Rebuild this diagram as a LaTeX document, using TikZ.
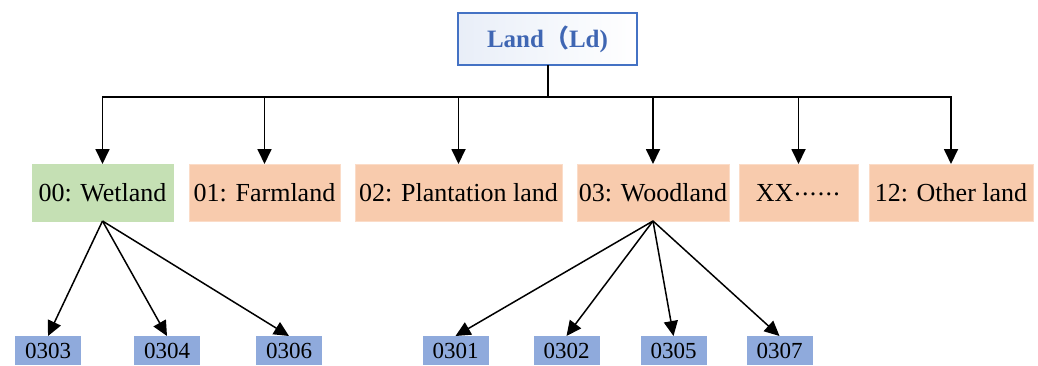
\documentclass[tikz,border=0pt]{standalone}
\usepackage{fontspec}
\setmainfont{Liberation Serif}
\newfontfamily\cjkfont{Noto Sans CJK SC}
\usetikzlibrary{arrows.meta}
\definecolor{wetgreen}{HTML}{C5E0B4}
\definecolor{classorange}{HTML}{F8CBAD}
\definecolor{classedge}{HTML}{FBDCC8}
\definecolor{subblue}{HTML}{8FAADC}
\definecolor{rootblue}{HTML}{4472C4}
\definecolor{roottext}{HTML}{3F66B3}
\newcommand{\middots}{\kern1pt\foreach \i in {1,...,6}{\raisebox{0.22em}{.}\kern1.3pt}}
\begin{document}
\begin{tikzpicture}[x=1pt,y=-1pt,
  every node/.style={inner sep=0pt, outer sep=0pt, anchor=center},
  rootbox/.style={draw=rootblue, line width=1.3pt, left color=rootblue!12, right color=white,
    minimum width=179pt, minimum height=52pt, text=roottext,
    font=\fontsize{25}{28}\selectfont\bfseries},
  classbox/.style={fill=classorange, draw=classedge, line width=1pt,
    minimum height=57pt, font=\fontsize{26}{30}\selectfont},
  wetbox/.style={classbox, fill=wetgreen, draw=wetgreen},
  codebox/.style={fill=subblue, minimum width=66pt, minimum height=29pt,
    font=\fontsize{23}{26}\selectfont},
  conn/.style={line width=1.8pt, -{Triangle[length=15pt,width=14pt]}},
  busline/.style={line width=2pt}]
\useasboundingbox (0,0) rectangle (1038,365);

% root of the classification
\node[rootbox] (land) at (547.5,39) {Land{\cjkfont （}Ld)};

% first-level classes
\node[wetbox,   minimum width=141pt] (wet)   at (102.5,192.5) {00: Wetland};
\node[classbox, minimum width=151pt] (farm)  at (264.5,192.5) {01: Farmland};
\node[classbox, minimum width=207pt] (plant) at (458.5,192.5) {02: Plantation land};
\node[classbox, minimum width=152pt] (wood)  at (653,192.5)   {03: Woodland};
\node[classbox, minimum width=119pt] (xx)    at (798.5,192.5) {XX\middots};
\node[classbox, minimum width=164pt] (other) at (951,192.5)   {12: Other land};

% second-level codes
\node[codebox] (c0303) at (48,350.5)    {0303};
\node[codebox] (c0304) at (167,350.5)   {0304};
\node[codebox] (c0306) at (289,350.5)   {0306};
\node[codebox] (c0301) at (455.5,350.5) {0301};
\node[codebox] (c0302) at (566.5,350.5) {0302};
\node[codebox] (c0305) at (673.5,350.5) {0305};
\node[codebox] (c0307) at (779.5,350.5) {0307};

% distribution bus under the root
\coordinate (bus) at (547.5,97);
\draw[busline] (land.south) -- (bus);
\foreach \k in {wet,farm,plant,wood,xx,other}
  \draw[conn] (bus) -| (\k.north);

% branches to the codes
\foreach \k in {c0303,c0304,c0306}
  \draw[conn, line width=1.5pt] (wet.south) -- (\k.north);
\foreach \k in {c0301,c0302,c0305,c0307}
  \draw[conn, line width=1.5pt] (wood.south) -- (\k.north);
\end{tikzpicture}
\end{document}
